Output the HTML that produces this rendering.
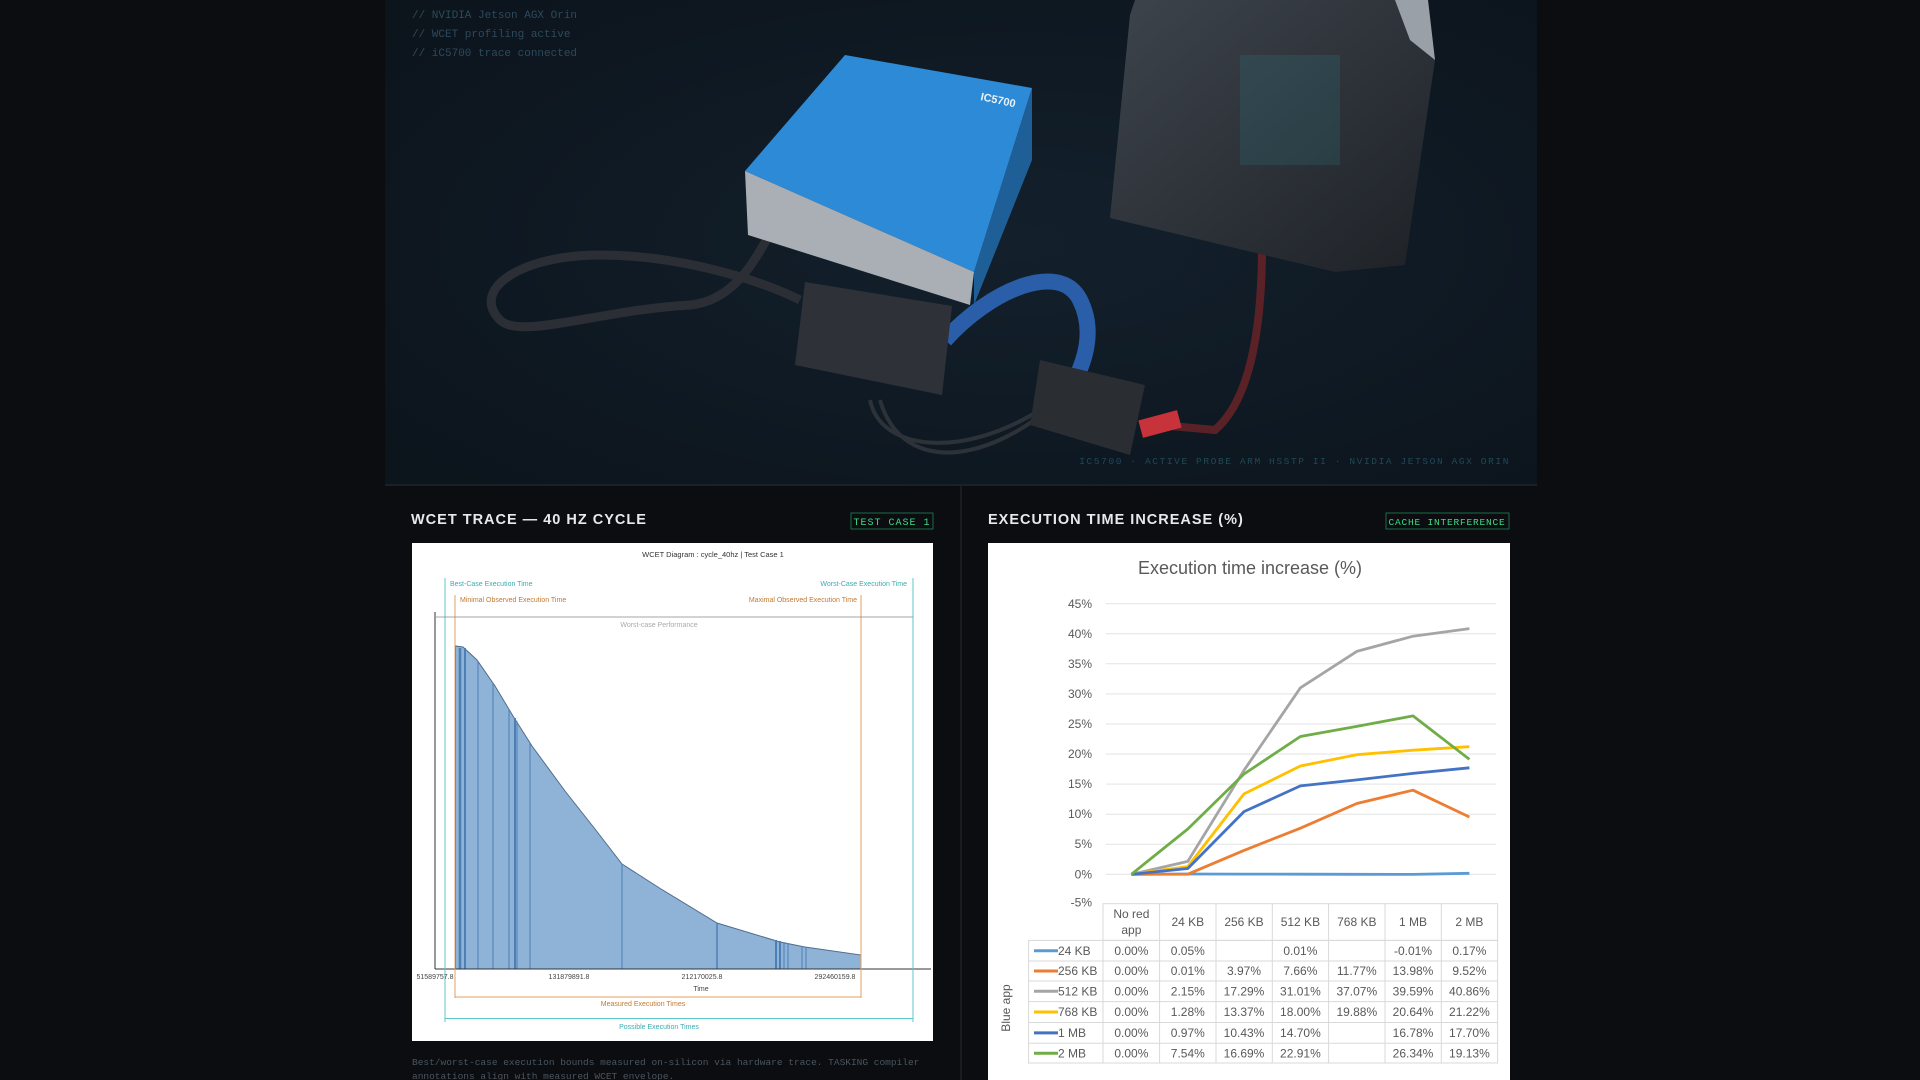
<!DOCTYPE html>
<html><head><meta charset="utf-8"><style>
html,body{margin:0;padding:0;background:#0b0d10;width:1920px;height:1080px;overflow:hidden}
svg{display:block}
.m{font-family:"Liberation Mono",monospace}
.s{font-family:"Liberation Sans",sans-serif}
</style></head><body>
<svg width="1920" height="1080" viewBox="0 0 1920 1080" xmlns="http://www.w3.org/2000/svg">
<defs>
<radialGradient id="hg" cx="0.55" cy="0.5" r="0.7">
<stop offset="0" stop-color="#13202c"/><stop offset="1" stop-color="#0c141c"/>
</radialGradient>
<linearGradient id="dev" x1="0" y1="0" x2="1" y2="1">
<stop offset="0" stop-color="#3e444c"/><stop offset="1" stop-color="#1e2227"/>
</linearGradient>
</defs>
<rect width="1920" height="1080" fill="#0b0d10"/>
<!-- hero -->
<rect x="385" y="0" width="1152" height="485" fill="url(#hg)"/>
<line x1="385" y1="485" x2="1537" y2="485" stroke="#1c2630" stroke-width="1.5"/>
<line x1="961" y1="486" x2="961" y2="1080" stroke="#1c2228" stroke-width="1.5"/>
<text class="m" x="412" y="18" font-size="11" fill="#2c4a5c">// NVIDIA Jetson AGX Orin</text>
<text class="m" x="412" y="37" font-size="11" fill="#2c4a5c">// WCET profiling active</text>
<text class="m" x="412" y="56" font-size="11" fill="#2c4a5c">// iC5700 trace connected</text>
<text class="m" x="1510" y="464" font-size="9.5" fill="#1f4858" text-anchor="end" letter-spacing="1.6">IC5700 · ACTIVE PROBE ARM HSSTP II · NVIDIA JETSON AGX ORIN</text>
<!-- cables -->
<path d="M780 215 C760 250 740 300 690 305 C600 310 520 340 500 320 C470 290 520 255 600 255 C680 255 760 280 800 300" fill="none" stroke="#2b2f35" stroke-width="9"/>
<path d="M1262 245 C1262 330 1250 400 1215 430 L1160 425" fill="none" stroke="#5a2226" stroke-width="8"/>
<path d="M870 400 C880 450 960 460 1040 410 M880 400 C900 470 980 470 1060 400" fill="none" stroke="#2d3238" stroke-width="4"/>
<path d="M945 340 C990 290 1060 260 1080 300 C1095 330 1085 360 1075 380" fill="none" stroke="#2a5ea8" stroke-width="16"/>
<!-- blue box -->
<polygon points="745,171 845,55 1032,88 974,272" fill="#2d8ad6"/>
<polygon points="745,171 974,272 970,305 748,235" fill="#a9afb5"/>
<polygon points="1032,88 1032,160 974,305 974,272" fill="#1f5f98"/>
<text class="s" x="980" y="100" font-size="11" font-weight="bold" fill="#e8f2fb" transform="rotate(12 980 100)">IC5700</text>
<!-- jetson -->
<polygon points="1135,0 1428,0 1435,60 1405,265 1335,272 1110,218 1130,15" fill="url(#dev)"/>
<polygon points="1395,0 1428,0 1435,60 1410,40" fill="#9aa0a8"/>
<rect x="1240" y="55" width="100" height="110" fill="#2a8d94" opacity="0.18"/>
<!-- probe -->
<polygon points="805,282 952,306 942,395 795,365" fill="#2e3238"/>
<polygon points="1040,360 1145,385 1130,455 1030,425" fill="#2a2d31"/>
<rect x="1140" y="415" width="40" height="18" fill="#c8323a" transform="rotate(-15 1160 424)"/>
<!-- panel titles -->
<text class="s" x="411" y="524" font-size="14.5" font-weight="bold" fill="#e6eaee" letter-spacing="1">WCET TRACE — 40 HZ CYCLE</text>
<rect x="851" y="513" width="82" height="16" fill="none" stroke="#1e6a48" stroke-width="1"/>
<text class="m" x="892" y="525" font-size="10" fill="#3ddc84" text-anchor="middle" letter-spacing="1">TEST CASE 1</text>
<text class="s" x="988" y="524" font-size="14.5" font-weight="bold" fill="#e6eaee" letter-spacing="1">EXECUTION TIME INCREASE (%)</text>
<rect x="1386" y="513" width="123" height="16" fill="none" stroke="#1e6a48" stroke-width="1"/>
<text class="m" x="1447" y="525" font-size="9.5" fill="#3ddc84" text-anchor="middle" letter-spacing="0.8">CACHE INTERFERENCE</text>
<!-- left chart -->
<rect x="412" y="543" width="521" height="498" fill="#ffffff"/>
<text class="s" x="713" y="557" font-size="7.5" fill="#333" text-anchor="middle">WCET Diagram : cycle_40hz | Test Case 1</text>
<path d="M455.5,969 L455.5,646 L463,647 L477,660 L495,686 L513,716 L532,746 L565,791 L595,829 L622,864 L661,889 L717,923 L780,942 L805,947 L861,955 L861,969 Z" fill="#8fb2d7" stroke="#4f6d8a" stroke-width="1"/>
<g stroke="#4c7fb4" stroke-width="1">
<line x1="460" y1="648" x2="460" y2="969" stroke-width="2.5"/><line x1="465" y1="648" x2="465" y2="969" stroke-width="2"/>
<line x1="478" y1="661" x2="478" y2="969"/><line x1="493" y1="684" x2="493" y2="969"/><line x1="509" y1="709" x2="509" y2="969"/>
<line x1="515" y1="718" x2="515" y2="969" stroke-width="2"/><line x1="517" y1="721" x2="517" y2="969"/><line x1="530" y1="743" x2="530" y2="969"/>
<line x1="622" y1="864" x2="622" y2="969"/><line x1="717" y1="923" x2="717" y2="969" stroke-width="1.5"/>
<line x1="776" y1="940" x2="776" y2="969" stroke-width="2"/><line x1="780" y1="941" x2="780" y2="969" stroke-width="2"/><line x1="784" y1="942" x2="784" y2="969"/><line x1="788" y1="943" x2="788" y2="969"/>
<line x1="802" y1="946" x2="802" y2="969"/><line x1="806" y1="947" x2="806" y2="969"/>
</g>
<line x1="435" y1="612" x2="435" y2="969" stroke="#333" stroke-width="1"/>
<line x1="435" y1="969" x2="931" y2="969" stroke="#333" stroke-width="1"/>
<g stroke="#5fc6c8" stroke-width="1"><line x1="445" y1="578" x2="445" y2="1022"/><line x1="913" y1="578" x2="913" y2="1022"/><line x1="445" y1="1018.5" x2="913" y2="1018.5"/></g>
<g stroke="#e0a060" stroke-width="1"><line x1="455" y1="595" x2="455" y2="998"/><line x1="861" y1="595" x2="861" y2="998"/><line x1="455" y1="997" x2="861" y2="997"/></g>
<line x1="436" y1="617" x2="913" y2="617" stroke="#888" stroke-width="0.8"/>
<g class="s" font-size="7">
<text x="450" y="586" fill="#3aacb0">Best-Case Execution Time</text>
<text x="907" y="586" fill="#3aacb0" text-anchor="end">Worst-Case Execution Time</text>
<text x="460" y="602" fill="#c07a30">Minimal Observed Execution Time</text>
<text x="857" y="602" fill="#c07a30" text-anchor="end">Maximal Observed Execution Time</text>
<text x="659" y="627" fill="#aaa" text-anchor="middle">Worst-case Performance</text>
<text x="435" y="979" fill="#444" text-anchor="middle">51589757.8</text>
<text x="569" y="979" fill="#444" text-anchor="middle">131879891.8</text>
<text x="702" y="979" fill="#444" text-anchor="middle">212170025.8</text>
<text x="835" y="979" fill="#444" text-anchor="middle">292460159.8</text>
<text x="701" y="991" fill="#444" text-anchor="middle">Time</text>
<text x="643" y="1006" fill="#c07a30" text-anchor="middle">Measured Execution Times</text>
<text x="659" y="1029" fill="#3aacb0" text-anchor="middle">Possible Execution Times</text>
</g>
<text class="m" x="412" y="1065" font-size="9.5" fill="#4a5560">Best/worst-case execution bounds measured on-silicon via hardware trace. TASKING compiler</text>
<text class="m" x="412" y="1079" font-size="9.5" fill="#4a5560">annotations align with measured WCET envelope.</text>
<!-- right chart -->
<rect x="988" y="543" width="522" height="537" fill="#ffffff"/>
<text class="s" x="1250" y="574" font-size="18" fill="#595959" text-anchor="middle">Execution time increase (%)</text>
<g stroke="#e3e3e3" stroke-width="1">
<line x1="1106" y1="603.7" x2="1496" y2="603.7"/><line x1="1106" y1="633.8" x2="1496" y2="633.8"/><line x1="1106" y1="663.8" x2="1496" y2="663.8"/>
<line x1="1106" y1="693.9" x2="1496" y2="693.9"/><line x1="1106" y1="724" x2="1496" y2="724"/><line x1="1106" y1="754" x2="1496" y2="754"/>
<line x1="1106" y1="784.1" x2="1496" y2="784.1"/><line x1="1106" y1="814.2" x2="1496" y2="814.2"/><line x1="1106" y1="844.2" x2="1496" y2="844.2"/>
<line x1="1106" y1="874.3" x2="1496" y2="874.3"/>
</g>
<g class="s" font-size="12" fill="#595959" text-anchor="end">
<text x="1092" y="608">45%</text><text x="1092" y="638">40%</text><text x="1092" y="668">35%</text><text x="1092" y="698">30%</text>
<text x="1092" y="728">25%</text><text x="1092" y="758">20%</text><text x="1092" y="788">15%</text><text x="1092" y="818">10%</text>
<text x="1092" y="848">5%</text><text x="1092" y="878.5">0%</text><text x="1092" y="906.5">-5%</text>
</g>
<g fill="none" stroke-width="2.8" stroke-linejoin="round">
<polyline stroke="#5b9bd5" points="1131.4,874.3 1187.8,874 1244,874.1 1300.4,874.2 1356.8,874.3 1413,874.4 1469.4,873.3"/>
<polyline stroke="#ed7d31" points="1131.4,874.3 1187.8,874.2 1244,850.4 1300.4,828.2 1356.8,803.5 1413,790.2 1469.4,817"/>
<polyline stroke="#a5a5a5" points="1131.4,874.3 1187.8,861.4 1244,770.3 1300.4,687.8 1356.8,651.4 1413,636.2 1469.4,628.6"/>
<polyline stroke="#ffc000" points="1131.4,874.3 1187.8,866.6 1244,793.9 1300.4,766 1356.8,754.7 1413,750.2 1469.4,746.7"/>
<polyline stroke="#4472c4" points="1131.4,874.3 1187.8,868.5 1244,811.6 1300.4,785.9 1356.8,779.9 1413,773.4 1469.4,767.8"/>
<polyline stroke="#70ad47" points="1131.4,874.3 1187.8,829 1244,774 1300.4,736.5 1356.8,726.4 1413,715.9 1469.4,759.3"/>
</g>
<!-- table -->
<g stroke="#d9d9d9" stroke-width="1" fill="none">
<rect x="1103" y="903.7" width="394.6" height="36.7"/>
<rect x="1028.6" y="940.4" width="469" height="122.6"/>
<line x1="1159.6" y1="903.7" x2="1159.6" y2="1063"/><line x1="1216" y1="903.7" x2="1216" y2="1063"/><line x1="1272.3" y1="903.7" x2="1272.3" y2="1063"/>
<line x1="1328.6" y1="903.7" x2="1328.6" y2="1063"/><line x1="1385" y1="903.7" x2="1385" y2="1063"/><line x1="1441.3" y1="903.7" x2="1441.3" y2="1063"/>
<line x1="1103" y1="940.4" x2="1103" y2="1063"/>
<line x1="1028.6" y1="961" x2="1497.6" y2="961"/><line x1="1028.6" y1="981" x2="1497.6" y2="981"/><line x1="1028.6" y1="1001.6" x2="1497.6" y2="1001.6"/>
<line x1="1028.6" y1="1022.5" x2="1497.6" y2="1022.5"/><line x1="1028.6" y1="1043.3" x2="1497.6" y2="1043.3"/>
</g>
<g stroke-width="3">
<line x1="1034" y1="950.7" x2="1058" y2="950.7" stroke="#5b9bd5"/><line x1="1034" y1="971" x2="1058" y2="971" stroke="#ed7d31"/>
<line x1="1034" y1="991.3" x2="1058" y2="991.3" stroke="#a5a5a5"/><line x1="1034" y1="1012" x2="1058" y2="1012" stroke="#ffc000"/>
<line x1="1034" y1="1032.9" x2="1058" y2="1032.9" stroke="#4472c4"/><line x1="1034" y1="1053.2" x2="1058" y2="1053.2" stroke="#70ad47"/>
</g>
<g class="s" font-size="12" fill="#595959" text-anchor="middle">
<text x="1131.4" y="918">No red</text><text x="1131.4" y="934">app</text>
<text x="1187.8" y="926">24 KB</text><text x="1244" y="926">256 KB</text><text x="1300.4" y="926">512 KB</text><text x="1356.8" y="926">768 KB</text><text x="1413" y="926">1 MB</text><text x="1469.4" y="926">2 MB</text>
</g>
<g class="s" font-size="12" fill="#595959">
<text x="1058" y="955">24 KB</text><text x="1058" y="975">256 KB</text><text x="1058" y="995.5">512 KB</text><text x="1058" y="1016">768 KB</text><text x="1058" y="1037">1 MB</text><text x="1058" y="1057.5">2 MB</text>
</g>
<g class="s" font-size="12" fill="#595959" text-anchor="middle">
<text x="1131.4" y="955">0.00%</text><text x="1187.8" y="955">0.05%</text><text x="1300.4" y="955">0.01%</text><text x="1413" y="955">-0.01%</text><text x="1469.4" y="955">0.17%</text>
<text x="1131.4" y="975">0.00%</text><text x="1187.8" y="975">0.01%</text><text x="1244" y="975">3.97%</text><text x="1300.4" y="975">7.66%</text><text x="1356.8" y="975">11.77%</text><text x="1413" y="975">13.98%</text><text x="1469.4" y="975">9.52%</text>
<text x="1131.4" y="995.5">0.00%</text><text x="1187.8" y="995.5">2.15%</text><text x="1244" y="995.5">17.29%</text><text x="1300.4" y="995.5">31.01%</text><text x="1356.8" y="995.5">37.07%</text><text x="1413" y="995.5">39.59%</text><text x="1469.4" y="995.5">40.86%</text>
<text x="1131.4" y="1016">0.00%</text><text x="1187.8" y="1016">1.28%</text><text x="1244" y="1016">13.37%</text><text x="1300.4" y="1016">18.00%</text><text x="1356.8" y="1016">19.88%</text><text x="1413" y="1016">20.64%</text><text x="1469.4" y="1016">21.22%</text>
<text x="1131.4" y="1037">0.00%</text><text x="1187.8" y="1037">0.97%</text><text x="1244" y="1037">10.43%</text><text x="1300.4" y="1037">14.70%</text><text x="1413" y="1037">16.78%</text><text x="1469.4" y="1037">17.70%</text>
<text x="1131.4" y="1057.5">0.00%</text><text x="1187.8" y="1057.5">7.54%</text><text x="1244" y="1057.5">16.69%</text><text x="1300.4" y="1057.5">22.91%</text><text x="1413" y="1057.5">26.34%</text><text x="1469.4" y="1057.5">19.13%</text>
</g>
<text class="s" x="1010" y="1008" font-size="12" fill="#595959" text-anchor="middle" transform="rotate(-90 1010 1008)">Blue app</text>
</svg>
</body></html>
